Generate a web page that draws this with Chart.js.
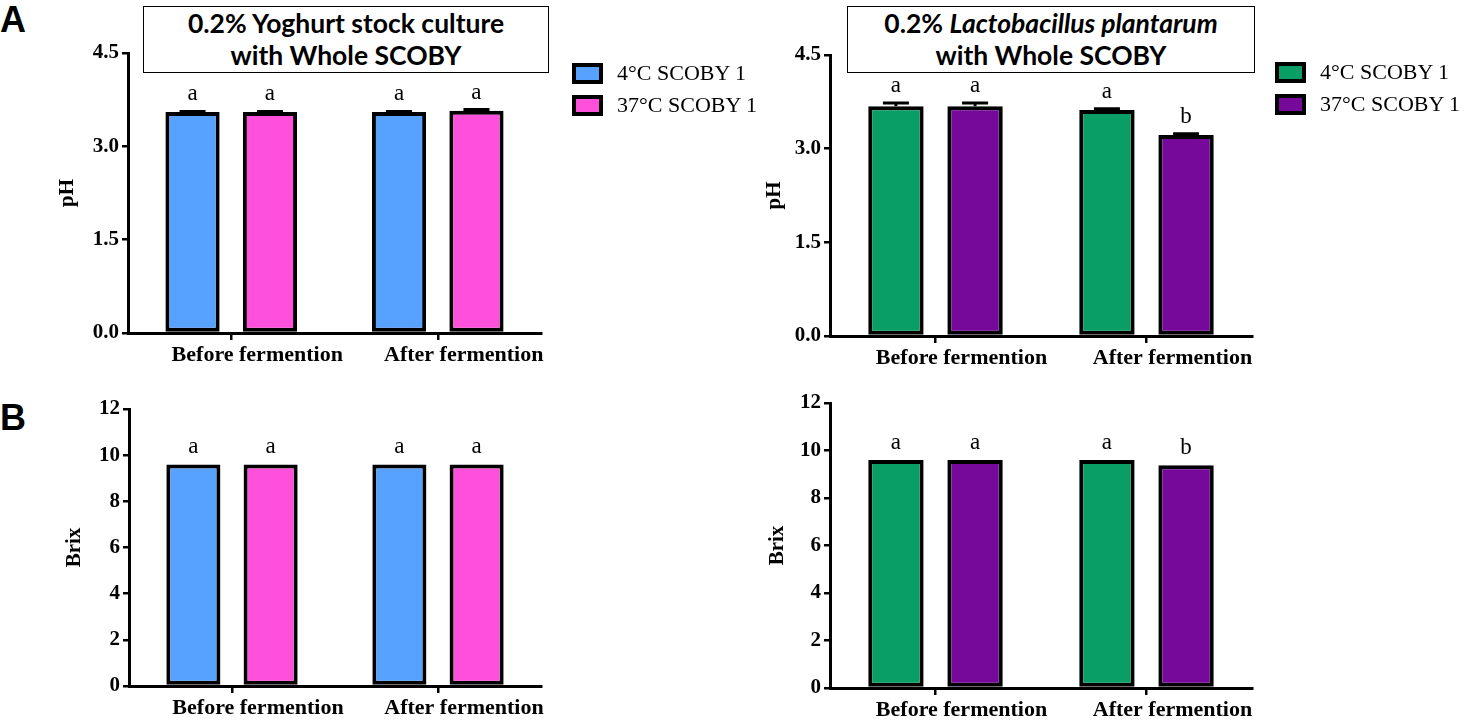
<!DOCTYPE html>
<html>
<head>
<meta charset="utf-8">
<script src="https://cdn.jsdelivr.net/npm/chart.js@4.4.0/dist/chart.umd.min.js"></script>
<style>
  body { margin: 0; background: #fff; width: 1470px; height: 721px; position: relative; overflow: hidden; font-family: 'Liberation Serif', serif; }
  canvas { position: absolute; }
  .panel { position: absolute; font-family: 'Liberation Sans', Arial, sans-serif; font-weight: bold; font-size: 36px; line-height: 36px; }
  .tbox { position: absolute; border: 1.5px solid #000; box-sizing: border-box; text-align: center; font-family: Lato, sans-serif; font-weight: bold; font-size: 26.5px; line-height: 32px; background: #fff; z-index: 2; }
  .legend { position: absolute; font-size: 22px; z-index: 2; }
  .legend .row { display: flex; align-items: center; }
  .legend .sw { width: 31px; height: 21px; border: 4px solid #000; box-sizing: border-box; margin-right: 14px; }
</style>
</head>
<body>
<div class="panel" style="left:0;top:2px">A</div>
<div class="panel" style="left:0;top:400px">B</div>

<div class="tbox" style="left:143px;top:6px;width:406px;height:67px">0.2% Yoghurt stock culture<br>with Whole SCOBY</div>
<div class="tbox" style="left:847px;top:6px;width:408px;height:67px">0.2% <i>Lactobacillus plantarum</i><br>with Whole SCOBY</div>

<div class="legend" id="leg1" style="left:572px;top:57px"></div>
<div class="legend" id="leg2" style="left:1275px;top:56px"></div>

<canvas id="c1" width="600" height="380" style="left:0;top:0"></canvas>
<canvas id="c2" width="600" height="380" style="left:700px;top:0"></canvas>
<canvas id="c3" width="600" height="361" style="left:0;top:360px"></canvas>
<canvas id="c4" width="600" height="361" style="left:700px;top:360px"></canvas>

<script>
// data
const categories = ['Before fermention', 'After fermention'];
const seriesNames = ['4°C SCOBY 1', '37°C SCOBY 1'];

const phYoghurt4 = [3.55, 3.55];
const phYoghurt37 = [3.55, 3.57];
const phYoghurtErr4 = [0.01, 0.01];
const phYoghurtErr37 = [0.01, 0.02];

const phPlant4 = [3.68, 3.62];
const phPlant37 = [3.68, 3.22];
const phPlantErr4 = [0.05, 0.02];
const phPlantErr37 = [0.05, 0.02];

const brixYoghurt4 = [9.6, 9.6];
const brixYoghurt37 = [9.6, 9.6];
const brixPlant4 = [9.6, 9.6];
const brixPlant37 = [9.6, 9.38];
const noErr = [0, 0];

const lettersAll = ['a', 'a'];
const lettersPlant37 = ['a', 'b'];

const yoghurtColors = ['#57A2FF', '#FF50DC'];
const plantColors = ['#0A9E67', '#76089A'];

const serif = "'Liberation Serif', 'Times New Roman', serif";

function buildLegend(id, colors) {
  const el = document.getElementById(id);
  seriesNames.forEach((name, i) => {
    const row = document.createElement('div');
    row.className = 'row';
    row.style.height = '32px';
    row.innerHTML = '<div class="sw" style="background:' + colors[i] + '"></div><span>' + name + '</span>';
    el.appendChild(row);
  });
}
buildLegend('leg1', yoghurtColors);
buildLegend('leg2', plantColors);

function makeChart(id, series, errors, letters, colors, yMax, yStep, decimals, yTitle, geo) {
  // error bars and significance letters
  const annotate = {
    id: 'annotate_' + id,
    afterDatasetsDraw(chart) {
      const ctx = chart.ctx;
      const y = chart.scales.y;
      chart.data.datasets.forEach((ds, di) => {
        chart.getDatasetMeta(di).data.forEach((bar, i) => {
          const e = errors[di][i];
          const top = y.getPixelForValue(ds.data[i] + e);
          ctx.save();
          ctx.strokeStyle = '#000';
          ctx.lineWidth = 3;
          if (e > 0) {
            ctx.beginPath();
            ctx.moveTo(bar.x, bar.y);
            ctx.lineTo(bar.x, top);
            ctx.moveTo(bar.x - 13, top);
            ctx.lineTo(bar.x + 13, top);
            ctx.stroke();
          }
          ctx.fillStyle = '#000';
          ctx.font = '23px ' + serif;
          ctx.textAlign = 'center';
          ctx.textBaseline = 'alphabetic';
          ctx.fillText(letters[di][i], bar.x, Math.min(top, bar.y) - 11);
          ctx.restore();
        });
      });
    }
  };

  return new Chart(document.getElementById(id), {
    type: 'bar',
    data: {
      labels: categories,
      datasets: series.map((d, i) => ({
        label: seriesNames[i],
        data: d,
        backgroundColor: colors[i],
        borderColor: '#000',
        borderWidth: 4,
        borderSkipped: false,
        categoryPercentage: 0.75,
        barPercentage: 0.7
      }))
    },
    options: {
      responsive: false,
      animation: false,
      events: [],
      layout: { padding: geo.padding },
      plugins: { legend: { display: false }, tooltip: { enabled: false } },
      scales: {
        x: {
          offset: true,
          grid: { offset: false, drawOnChartArea: false, drawTicks: true, tickLength: 7, color: '#000', lineWidth: 2.5 },
          border: { display: true, color: '#000', width: 3 },
          ticks: { color: '#000', font: { family: serif, size: 22, weight: 'bold' }, padding: 2, labelOffset: 26, maxRotation: 0, autoSkip: false },
          afterFit(s) { s.height = geo.xHeight; s.paddingLeft = 0; s.paddingRight = 0; }
        },
        y: {
          min: 0,
          max: yMax,
          grid: { drawOnChartArea: false, drawTicks: true, tickLength: 6, color: '#000', lineWidth: 2.5 },
          border: { display: true, color: '#000', width: 3 },
          ticks: {
            stepSize: yStep,
            color: '#000',
            padding: 3,
            font: { family: serif, size: 21, weight: 'bold' },
            callback: v => v.toFixed(decimals)
          },
          title: { display: true, text: yTitle, color: '#000', font: { family: serif, size: 21, weight: 'bold' }, padding: { top: geo.titlePad, bottom: 0 } },
          afterFit(s) { s.width = geo.yWidth; }
        }
      }
    },
    plugins: [annotate]
  });
}

makeChart('c1', [phYoghurt4, phYoghurt37], [phYoghurtErr4, phYoghurtErr37], [lettersAll, lettersAll],
  yoghurtColors, 4.5, 1.5, 1, 'pH',
  { yWidth: 128, xHeight: 40, titlePad: 55, padding: { top: 53, right: 59, bottom: 7, left: 0 } });

makeChart('c2', [phPlant4, phPlant37], [phPlantErr4, phPlantErr37], [lettersAll, lettersPlant37],
  plantColors, 4.5, 1.5, 1, 'pH',
  { yWidth: 130, xHeight: 40, titlePad: 62, padding: { top: 55, right: 48, bottom: 4, left: 0 } });

makeChart('c3', [brixYoghurt4, brixYoghurt37], [noErr, noErr], [lettersAll, lettersAll],
  yoghurtColors, 12, 2, 0, 'Brix',
  { yWidth: 129, xHeight: 35, titlePad: 62, padding: { top: 49, right: 59, bottom: 0, left: 0 } });

makeChart('c4', [brixPlant4, brixPlant37], [noErr, noErr], [lettersAll, lettersPlant37],
  plantColors, 12, 2, 0, 'Brix',
  { yWidth: 130, xHeight: 33, titlePad: 65, padding: { top: 43, right: 48, bottom: 0, left: 0 } });
</script>
</body>
</html>
